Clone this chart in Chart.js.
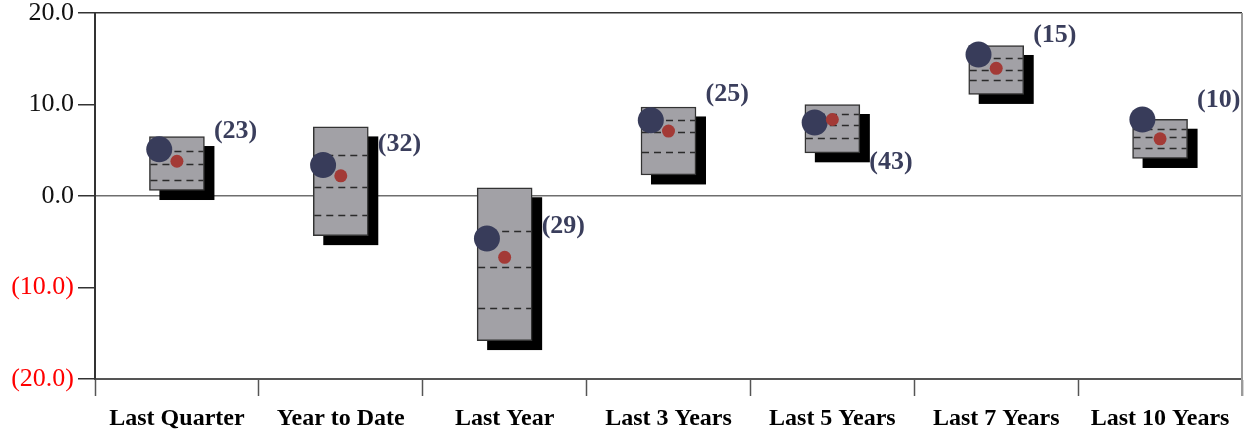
<!DOCTYPE html>
<html>
<head>
<meta charset="utf-8">
<script src="https://cdn.jsdelivr.net/npm/chart.js@4/dist/chart.umd.min.js"></script>
<style>
  html, body { margin: 0; padding: 0; background: #ffffff; }
  #wrap { width: 1255px; height: 434px; position: relative; }
</style>
</head>
<body>
<div id="wrap"><canvas id="rangeChart"></canvas></div>
<script>
// Peer-group ranges per period
const categories = ['Last Quarter', 'Year to Date', 'Last Year', 'Last 3 Years', 'Last 5 Years', 'Last 7 Years', 'Last 10 Years'];
const rangeHigh = [6.5, 7.55, 0.9, 9.73, 10.0, 16.45, 8.39];
const rangeLow = [0.6, -4.33, -15.8, 2.3, 4.72, 11.1, 4.1];
const upperQuartile = [4.9, 4.47, -3.8, 8.36, 9.0, 15.07, 7.34];
const midLine = [3.45, 1.0, -7.74, 7.0, 7.77, 13.73, 6.5];
const lowerQuartile = [1.78, -2.1, -12.25, 4.76, 6.35, 12.72, 5.23];
const fundReturn = [5.1, 3.38, -4.65, 8.28, 8.03, 15.47, 8.36];
const benchReturn = [3.8, 2.2, -6.7, 7.1, 8.36, 13.95, 6.25];
const peerCount = [23, 32, 29, 25, 43, 15, 10];
const countLabelAt = [7.1, 5.6, -3.27, 11.1, 3.65, 17.6, 10.43];
const yTicks = [-20, -10, 0, 10, 20];

const serif = "'Liberation Serif', 'Times New Roman', serif";

function fmt(v) {
    return v < 0 ? '(' + Math.abs(v).toFixed(1) + ')' : v.toFixed(1);
}

// black drop shadow behind every box
const shadowPlugin = {
    id: 'boxShadow',
    beforeDatasetsDraw(chart) {
        const ctx = chart.ctx;
        const meta = chart.getDatasetMeta(0);
        ctx.save();
        ctx.fillStyle = '#000000';
        meta.data.forEach(bar => {
            const p = bar.getProps(['x', 'y', 'base', 'width'], true);
            const top = Math.min(p.y, p.base);
            ctx.fillRect(p.x - p.width / 2 + 10, top + 9.5, p.width, Math.abs(p.base - p.y));
        });
        ctx.restore();
    }
};

// dashed quartile lines on the boxes, shift for the big dot, count labels, frame
const markPlugin = {
    id: 'marks',
    beforeDatasetDraw(chart, args) {
        if (args.index === 1) {
            chart.ctx.save();
            chart.ctx.translate(-17.7, 0);
        }
    },
    afterDatasetDraw(chart, args) {
        const ctx = chart.ctx;
        if (args.index === 1) {
            ctx.restore();
            return;
        }
        if (args.index !== 0) return;
        const y = chart.scales.y;
        const meta = chart.getDatasetMeta(0);
        ctx.save();
        ctx.strokeStyle = '#2b2b2b';
        ctx.lineWidth = 1.3;
        ctx.setLineDash([7, 5]);
        meta.data.forEach((bar, i) => {
            const p = bar.getProps(['x', 'width'], true);
            [upperQuartile[i], midLine[i], lowerQuartile[i]].forEach(v => {
                const py = Math.round(y.getPixelForValue(v)) + 0.5;
                ctx.beginPath();
                ctx.moveTo(p.x - p.width / 2 + 1, py);
                ctx.lineTo(p.x + p.width / 2 - 1, py);
                ctx.stroke();
            });
        });
        ctx.restore();
    },
    afterDraw(chart) {
        const ctx = chart.ctx;
        const area = chart.chartArea;
        const x = chart.scales.x;
        const y = chart.scales.y;
        ctx.save();
        ctx.strokeStyle = '#9a9a9a';
        ctx.lineWidth = 2;
        ctx.beginPath();
        ctx.moveTo(area.right, area.top);
        ctx.lineTo(area.right, area.bottom + 17);
        ctx.stroke();
        ctx.font = 'bold 26px ' + serif;
        ctx.fillStyle = '#3a3e5c';
        ctx.textAlign = 'left';
        ctx.textBaseline = 'middle';
        peerCount.forEach((n, i) => {
            ctx.fillText('(' + n + ')', x.getPixelForValue(i) + 37, y.getPixelForValue(countLabelAt[i]));
        });
        ctx.restore();
    }
};

new Chart(document.getElementById('rangeChart'), {
    type: 'bar',
    data: {
        labels: categories,
        datasets: [
            {
                label: 'Range',
                data: rangeLow.map((lo, i) => [lo, rangeHigh[i]]),
                backgroundColor: '#a2a1a6',
                borderColor: '#333333',
                borderWidth: 1.5,
                borderSkipped: false,
                barThickness: 55,
                order: 3
            },
            {
                type: 'line',
                label: 'Fund',
                data: fundReturn,
                showLine: false,
                pointRadius: 13,
                pointHoverRadius: 13,
                pointBorderWidth: 0,
                pointBackgroundColor: '#383c5a',
                order: 2
            },
            {
                type: 'line',
                label: 'Median',
                data: benchReturn,
                showLine: false,
                pointRadius: 6.5,
                pointHoverRadius: 6.5,
                pointBorderWidth: 0,
                pointBackgroundColor: '#a33a36',
                order: 1
            }
        ]
    },
    options: {
        responsive: true,
        maintainAspectRatio: false,
        animation: false,
        layout: { padding: { top: 9, right: 10, left: 0, bottom: 0 } },
        plugins: {
            legend: { display: false },
            tooltip: { enabled: false }
        },
        scales: {
            x: {
                afterFit: scale => { scale.height = 55; },
                grid: {
                    offset: true,
                    drawOnChartArea: false,
                    tickLength: 17,
                    tickColor: '#555555',
                    tickWidth: 1.5
                },
                border: { color: '#555555', width: 2 },
                ticks: {
                    color: '#000000',
                    padding: 8,
                    font: { family: serif, size: 24, weight: 'bold' }
                }
            },
            y: {
                min: -20,
                max: 20,
                afterFit: scale => { scale.width = 95; },
                afterBuildTicks: scale => { scale.ticks = yTicks.map(v => ({ value: v })); },
                grid: {
                    color: ctx => ctx.tick && ctx.tick.value === 0 ? '#6e6e6e' : (ctx.tick && ctx.tick.value === 20 ? '#333333' : 'transparent'),
                    lineWidth: 1.5,
                    tickLength: 17,
                    tickColor: '#333333',
                    tickWidth: 1.5
                },
                border: { color: '#333333', width: 2 },
                ticks: {
                    padding: 4,
                    callback: v => fmt(v),
                    color: ctx => ctx.tick && ctx.tick.value < 0 ? '#ff0000' : '#111111',
                    font: { family: serif, size: 26, lineHeight: 0.6 }
                }
            }
        }
    },
    plugins: [shadowPlugin, markPlugin]
});
</script>
</body>
</html>
